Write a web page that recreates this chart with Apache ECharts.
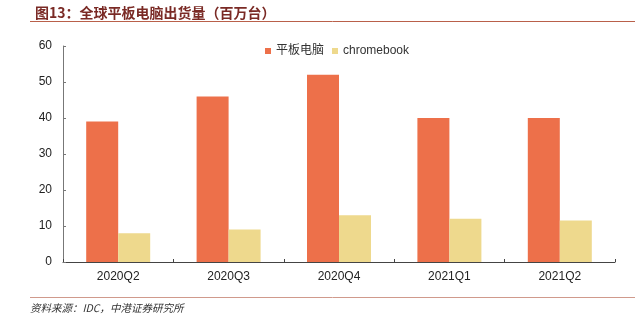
<!DOCTYPE html>
<html><head><meta charset="utf-8">
<script src="https://cdn.jsdelivr.net/npm/echarts@6/dist/echarts.min.js"></script>
<style>html,body{margin:0;padding:0;background:#fff}#c{width:635px;height:320px}</style>
</head><body><div id="c"></div>
<script>
const categories = ['2020Q2','2020Q3','2020Q4','2021Q1','2021Q2'];
const tabletValues = [39, 46, 52, 40, 40];
const chromebookValues = [8, 9, 13, 12, 11.5];
const seriesNames = ['平板电脑', 'chromebook'];
const titleText = '图13：全球平板电脑出货量（百万台）';
const sourceText = '资料来源：IDC，中港证券研究所';

const FONT = '"Liberation Sans", Arial, "Noto Sans CJK SC", sans-serif';
const chart = echarts.init(document.getElementById('c'), null, {renderer:'canvas'});
chart.setOption({
  animation: false,
  textStyle: {fontFamily: FONT},
  title: {
    text: titleText, left: 30, top: 1,
    textStyle: {fontFamily:'"Noto Sans CJK SC"', fontSize:14, fontWeight:'bold', color:'#7a2a25'}
  },
  graphic: [
    {type:'line', shape:{x1:30,y1:21.5,x2:635,y2:21.5}, style:{stroke:'#b9604a', lineWidth:1}},
    {type:'line', shape:{x1:30,y1:297.5,x2:635,y2:297.5}, style:{stroke:'#d09a8c', lineWidth:1}},
    {type:'text', left:30, top:303, style:{text:sourceText, fontFamily:'"Noto Sans CJK SC"', fontStyle:'italic', fontSize:10.5, fill:'#333'}}
  ],
  legend: {
    data: seriesNames, top: 40, left: 260, itemWidth: 6, itemHeight: 6, itemGap: 8,
    icon: 'rect',
    textStyle: {fontFamily: FONT, fontSize:12, color:'#333'}
  },
  grid: {left: 63, right: 20, top: 46, bottom: 58, containLabel: false},
  xAxis: {
    type: 'category', data: categories,
    axisLine: {lineStyle:{color:'#444'}},
    axisTick: {show:true, inside:true, length:3, lineStyle:{color:'#444'}},
    axisLabel: {fontFamily: FONT, fontSize:12, color:'#222', margin:9}
  },
  yAxis: {
    type: 'value', min: 0, max: 60, interval: 10,
    axisLine: {show:true, lineStyle:{color:'#777'}},
    axisTick: {show:true, inside:true, length:3, lineStyle:{color:'#777'}},
    splitLine: {show:false},
    axisLabel: {fontFamily: FONT, fontSize:12, color:'#222', margin:11}
  },
  series: [
    {name: seriesNames[0], type:'bar', data: tabletValues, barWidth: 32, barGap: '0%', itemStyle:{color:'#ed704a'}},
    {name: seriesNames[1], type:'bar', data: chromebookValues, barWidth: 32, barGap: '0%', itemStyle:{color:'#eed98d'}}
  ]
});
</script></body></html>
